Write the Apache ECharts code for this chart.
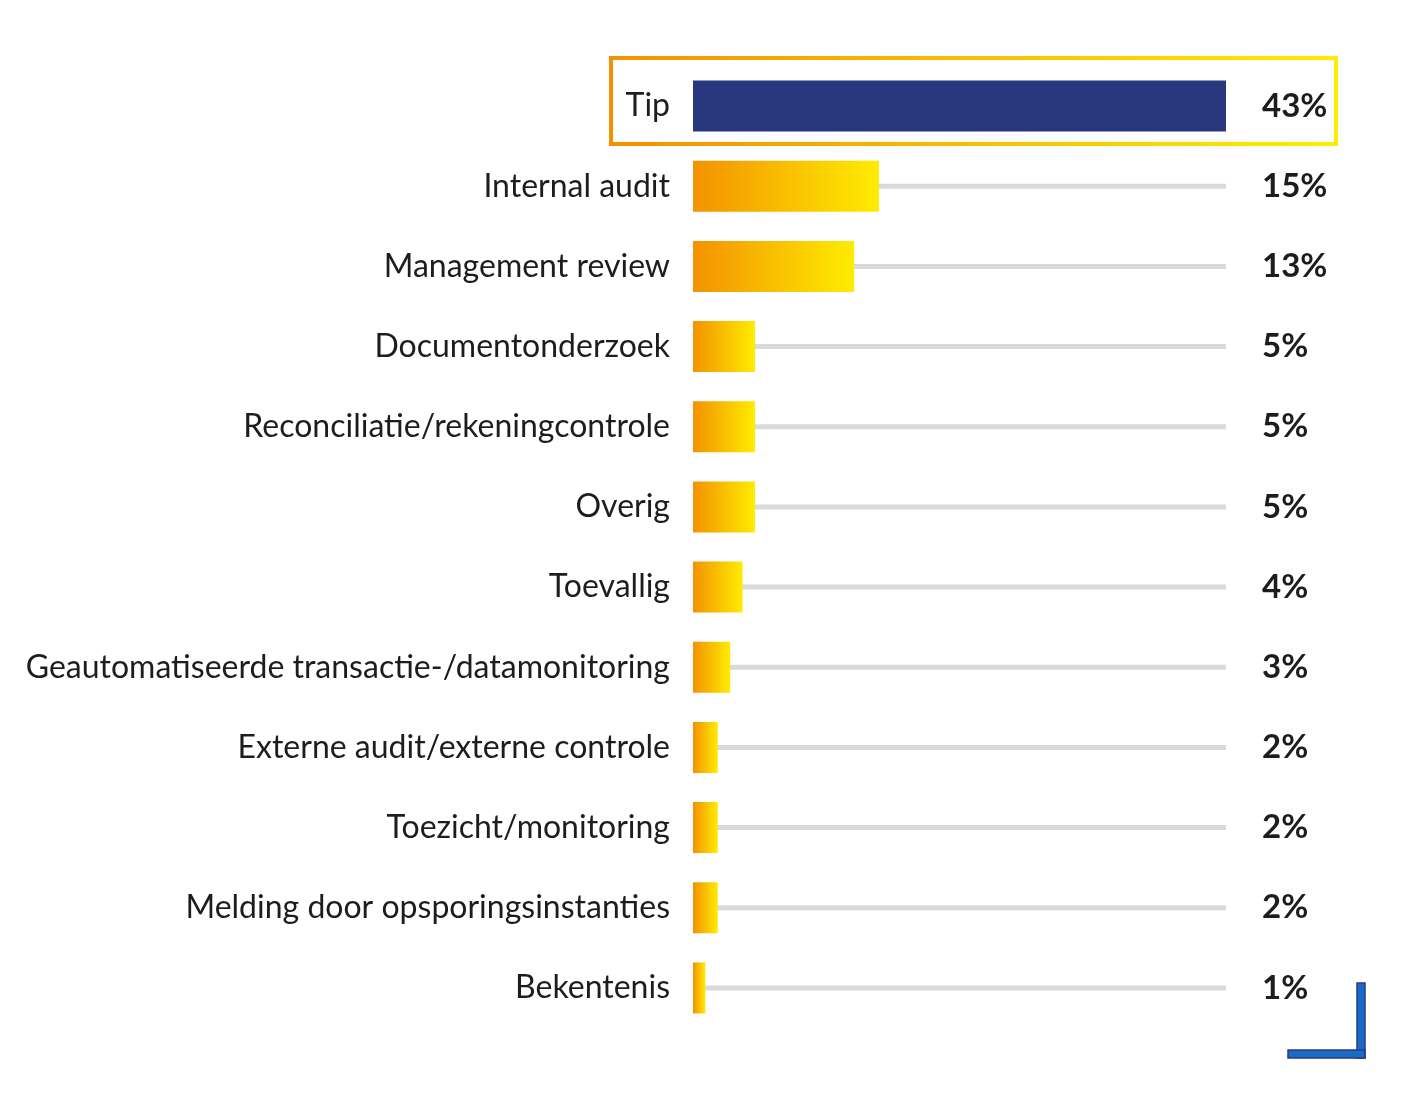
<!DOCTYPE html>
<html>
<head>
<meta charset="utf-8">
<script src="https://cdn.jsdelivr.net/npm/echarts@6/dist/echarts.min.js"></script>
<style>
  html, body { margin: 0; padding: 0; background: #fff; }
  #chart { width: 1420px; height: 1104px; }
</style>
</head>
<body>
<div id="chart"></div>
<script>
const categories = [
  'Tip',
  'Internal audit',
  'Management review',
  'Documentonderzoek',
  'Reconciliatie/rekeningcontrole',
  'Overig',
  'Toevallig',
  'Geautomatiseerde transactie-/datamonitoring',
  'Externe audit/externe controle',
  'Toezicht/monitoring',
  'Melding door opsporingsinstanties',
  'Bekentenis'
];
const values = [43, 15, 13, 5, 5, 5, 4, 3, 2, 2, 2, 1];
const trackMax = 43;

const chart = echarts.init(document.getElementById('chart'));

const orangeYellow = new echarts.graphic.LinearGradient(0, 0, 1, 0, [
  { offset: 0, color: '#f39200' },
  { offset: 1, color: '#ffec00' }
]);

chart.setOption({
  animation: false,
  grid: { left: 693, right: 194, top: 66, bottom: 76 },
  xAxis: {
    type: 'value',
    min: 0,
    max: trackMax,
    show: false
  },
  yAxis: [
    {
      type: 'category',
      inverse: true,
      data: categories,
      axisLine: { show: false },
      axisTick: { show: false },
      axisLabel: {
        color: '#1d1d1b',
        fontFamily: 'Lato',
        fontSize: 32,
        margin: 23,
        padding: [4, 0, 0, 0]
      }
    },
    {
      // same rows, used only to centre the grey tracks
      type: 'category',
      inverse: true,
      data: categories,
      show: false
    }
  ],
  series: [
    {
      // grey track behind each bar, carries the value labels
      type: 'bar',
      yAxisIndex: 1,
      data: categories.map(() => trackMax),
      barWidth: 5,
      silent: true,
      itemStyle: { color: '#dadada' },
      label: {
        show: true,
        position: 'right',
        distance: 36,
        padding: [4, 0, 0, 0],
        fontFamily: 'Lato',
        fontWeight: 'bold',
        fontSize: 33,
        color: '#1d1d1b',
        formatter: (p) => values[p.dataIndex] + '%'
      },
      z: 1
    },
    {
      type: 'bar',
      yAxisIndex: 0,
      data: values.map((v, i) => ({
        value: v,
        itemStyle: { color: i === 0 ? '#29377f' : orangeYellow }
      })),
      barWidth: 51,
      z: 2
    }
  ],
  graphic: [
    {
      type: 'rect',
      shape: { x: 611, y: 58, width: 725, height: 86 },
      style: {
        fill: 'none',
        lineWidth: 4,
        stroke: new echarts.graphic.LinearGradient(0, 0, 1, 0, [
          { offset: 0, color: '#f39200' },
          { offset: 1, color: '#ffec00' }
        ])
      }
    },
    {
      type: 'rect',
      shape: { x: 1357, y: 983, width: 8, height: 75 },
      style: { fill: '#1a6bc4', stroke: '#2a3a8a', lineWidth: 1.5 }
    },
    {
      type: 'rect',
      shape: { x: 1288, y: 1050, width: 77, height: 8 },
      style: { fill: '#1a6bc4', stroke: '#2a3a8a', lineWidth: 1.5 }
    }
  ]
});
</script>
</body>
</html>
